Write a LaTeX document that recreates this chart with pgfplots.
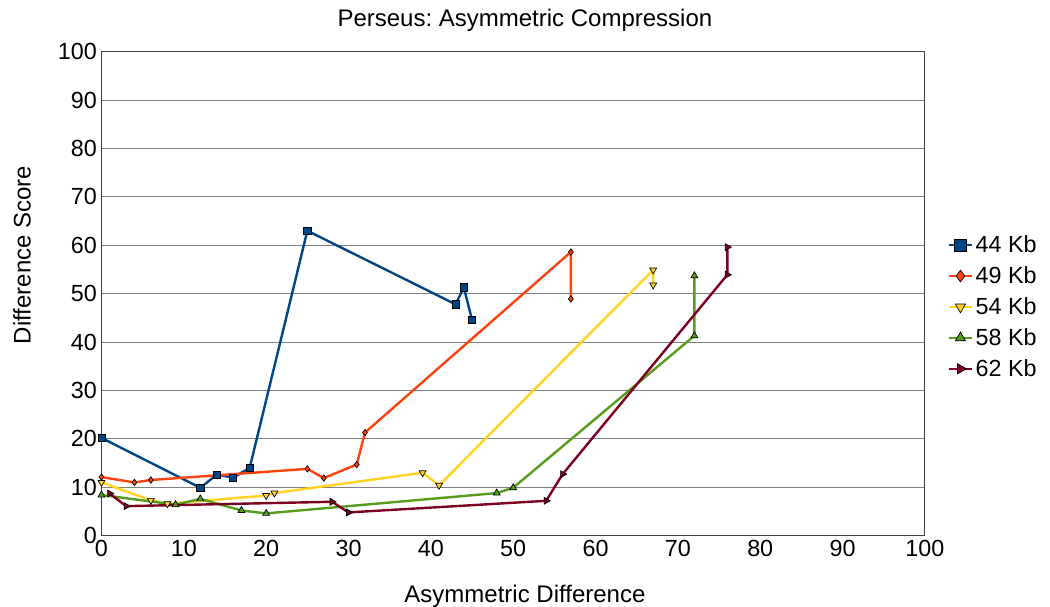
\documentclass[border=0pt]{standalone}
\usepackage{fontspec}
\setmainfont{Liberation Sans}
\usepackage{pgfplots}
\pgfplotsset{compat=1.18}
\definecolor{cA}{HTML}{004586}
\definecolor{cB}{HTML}{FF420E}
\definecolor{cC}{HTML}{FFD320}
\definecolor{cD}{HTML}{579D1C}
\definecolor{cE}{HTML}{7E0021}
\frenchspacing
\begin{document}
\begin{tikzpicture}
\begin{axis}[name=ax,
  scale only axis, width=617.6pt, height=363pt,
  xmin=0, xmax=100, ymin=0, ymax=100,
  xtick={0,10,...,100}, ytick={0,10,...,100},
  ymajorgrids, grid style={color=black!50, line width=0.8pt},
  axis line style={color=black!75, line width=0.8pt},
  major tick length=0pt,
  tick label style={font=\fontsize{17.5}{20}\selectfont},
  /pgf/number format/assume math mode=true,
  every axis plot/.append style={line width=1.8pt},
  legend style={at={(1,0.4725)}, anchor=west, xshift=14pt, draw=none, fill=none,
    font=\fontsize{17.5}{20}\selectfont, row sep=5pt},
  legend cell align=left,
  legend image post style={mark size=4.4pt},
]
\addplot[cA, mark=square*, mark size=2.7pt, mark options={fill=cA, draw=black, line width=0.5pt}] coordinates {
(0,20.2) (12,9.9) (14,12.6) (16,12.0) (18,14.0) (25,63.0) (43,47.8) (44,51.3) (45,44.6)};
\addlegendentry{44 Kb}
\addplot[cB, mark=diamond*, mark size=2.4pt, mark options={fill=cB, draw=black, line width=0.5pt}] coordinates {
(0,12.1) (4,11.0) (6,11.5) (25,13.8) (27,11.9) (31,14.7) (32,21.3) (57,58.6) (57,48.9)};
\addlegendentry{49 Kb}
\addplot[cC, mark=triangle*, mark size=3pt, mark options={rotate=180, fill=cC, draw=black, line width=0.5pt}] coordinates {
(0,11.0) (6,7.3) (8,6.6) (20,8.3) (21,8.8) (39,13.0) (41,10.4) (67,54.9) (67,51.8)};
\addlegendentry{54 Kb}
\addplot[cD, mark=triangle*, mark size=3pt, mark options={fill=cD, draw=black, line width=0.5pt}] coordinates {
(0,8.4) (9,6.4) (12,7.6) (17,5.2) (20,4.6) (48,8.8) (50,9.9) (72,41.3) (72,53.7)};
\addlegendentry{58 Kb}
\addplot[cE, mark=triangle*, mark size=3pt, mark options={rotate=-90, fill=cE, draw=black, line width=0.5pt}] coordinates {
(1,8.7) (3,6.1) (28,7.0) (30,4.8) (54,7.2) (56,12.7) (76,53.9) (76,59.6)};
\addlegendentry{62 Kb}
\end{axis}
\node[font=\fontsize{18}{21}\selectfont] at ([xshift=317.6pt, yshift=23.8pt]ax.north west) {Perseus: Asymmetric Compression};
\node[font=\fontsize{18}{21}\selectfont] at ([xshift=317.6pt, yshift=-45.5pt]ax.south west) {Asymmetric Difference};
\node[font=\fontsize{18}{21}\selectfont, rotate=90] at ([xshift=-59.6pt, yshift=210.5pt]ax.south west) {Difference Score};
\pgfresetboundingbox
\path ([xshift=-76.1pt, yshift=-53.5pt]ax.south west) rectangle ++(787.5pt,455.25pt);
\end{tikzpicture}
\end{document}
